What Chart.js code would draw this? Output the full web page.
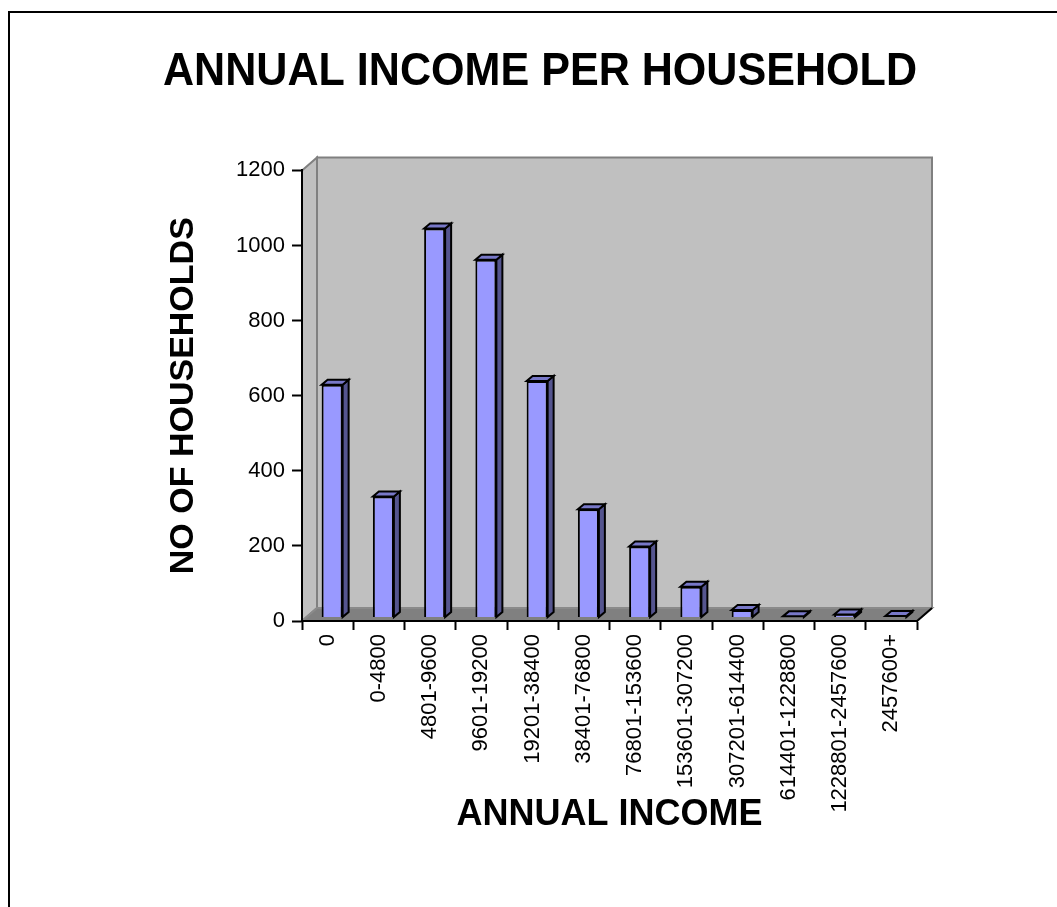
<!DOCTYPE html>
<html>
<head>
<meta charset="utf-8">
<title>Annual income per household</title>
<script src="https://cdn.jsdelivr.net/npm/chart.js@4.4.1/dist/chart.umd.min.js"></script>
<style>
  html, body { margin: 0; padding: 0; background: #fff; overflow: hidden; }
  #frame {
    position: absolute; left: 8px; top: 11px;
    width: 1200px; height: 1000px;
    border: 2px solid #000;
  }
  #chart { position: absolute; left: 0; top: 0; }
</style>
</head>
<body>
<div id="frame"></div>
<canvas id="chart" width="1057" height="907"></canvas>
<script>
// income brackets and household counts
const incomeBands = [
  '0', '0-4800', '4801-9600', '9601-19200', '19201-38400', '38401-76800',
  '76801-153600', '153601-307200', '307201-614400', '614401-1228800',
  '1228801-2457600', '2457600+'
];
const households = [620, 322, 1036, 953, 630, 288, 189, 82, 20, 3, 8, 4];
const countTicks = [0, 200, 400, 600, 800, 1000, 1200];

const FONT = "'Liberation Sans', Arial, sans-serif";

// 3d look: wall depth, bar depth and where the bars sit inside the box
const WALL = { dx: 15, dy: 13 };
const BAR = { dx: 6, dy: 5, shiftX: 4.5, shiftY: 3.5 };

function poly(ctx, pts, fill, stroke, lw) {
  ctx.beginPath();
  ctx.moveTo(pts[0][0], pts[0][1]);
  for (let i = 1; i < pts.length; i++) ctx.lineTo(pts[i][0], pts[i][1]);
  ctx.closePath();
  if (fill) { ctx.fillStyle = fill; ctx.fill(); }
  if (stroke) { ctx.strokeStyle = stroke; ctx.lineWidth = lw || 1; ctx.stroke(); }
}

const box3d = {
  id: 'box3d',
  beforeDraw(chart) {
    const { ctx } = chart;
    const { left: L, right: R, top: T, bottom: B } = chart.chartArea;
    const dx = WALL.dx, dy = WALL.dy;
    ctx.save();
    ctx.lineJoin = 'miter';
    // side wall
    poly(ctx, [[L, T], [L + dx, T - dy], [L + dx, B - dy], [L, B]], '#C0C0C0', '#808080', 2);
    // back wall
    poly(ctx, [[L + dx, T - dy], [R + dx, T - dy], [R + dx, B - dy], [L + dx, B - dy]], '#C0C0C0', '#808080', 2);
    // floor
    poly(ctx, [[L, B], [L + dx, B - dy], [R + dx, B - dy], [R, B]], '#808080', '#8a8a8a', 2);
    ctx.beginPath();
    ctx.moveTo(R, B);
    ctx.lineTo(R + dx, B - dy);
    ctx.strokeStyle = '#000';
    ctx.lineWidth = 2;
    ctx.stroke();
    ctx.restore();
  },
  beforeDatasetsDraw(chart) {
    chart.ctx.save();
    chart.ctx.translate(BAR.shiftX, -BAR.shiftY);
  },
  afterDatasetsDraw(chart) {
    const { ctx } = chart;
    ctx.lineJoin = 'miter';
    chart.getDatasetMeta(0).data.forEach(bar => {
      const p = bar.getProps(['x', 'y', 'base', 'width'], true);
      const l = p.x - p.width / 2, r = p.x + p.width / 2;
      const top = Math.min(p.y, p.base), base = Math.max(p.y, p.base);
      // right side face
      poly(ctx, [[r, top], [r + BAR.dx, top - BAR.dy], [r + BAR.dx, base - BAR.dy], [r, base]], '#55558F', '#000', 2);
      // top face
      poly(ctx, [[l, top], [l + BAR.dx, top - BAR.dy], [r + BAR.dx, top - BAR.dy], [r, top]], '#7878C8', '#000', 2);
    });
    ctx.restore();
  }
};

new Chart(document.getElementById('chart'), {
  type: 'bar',
  data: {
    labels: incomeBands,
    datasets: [{
      data: households,
      backgroundColor: '#9999FF',
      borderColor: '#000',
      borderWidth: 2,
      categoryPercentage: 1,
      barPercentage: 0.41
    }]
  },
  options: {
    responsive: false,
    animation: false,
    events: [],
    layout: { padding: { left: 163, right: 140, top: 10, bottom: 0 } },
    plugins: {
      legend: { display: false },
      tooltip: { enabled: false },
      title: {
        display: true,
        text: 'ANNUAL INCOME PER HOUSEHOLD',
        color: '#000',
        font: { family: FONT, size: 47, weight: 'bold' },
        padding: { top: 34, bottom: 70 }
      }
    },
    scales: {
      x: {
        afterFit: s => { s.height = 286; },
        border: { color: '#000', width: 2 },
        grid: { display: true, drawOnChartArea: false, offset: true, tickLength: 9, tickWidth: 2, tickColor: '#000' },
        ticks: {
          color: '#000', font: { family: FONT, size: 22 },
          maxRotation: 90, minRotation: 90, autoSkip: false, padding: 4
        },
        title: {
          display: true, text: 'ANNUAL INCOME', color: '#000',
          font: { family: FONT, size: 36, weight: 'bold' },
          padding: { bottom: 70 }
        }
      },
      y: {
        min: 0, max: 1200,
        afterFit: s => { s.width = 139; },
        afterBuildTicks: s => { s.ticks = countTicks.map(v => ({ value: v })); },
        border: { color: '#000', width: 2 },
        grid: { display: true, drawOnChartArea: false, tickLength: 10, tickWidth: 2, tickColor: '#000' },
        ticks: {
          color: '#000', font: { family: FONT, size: 22 }, padding: 7,
          callback: v => String(v)
        },
        title: {
          display: true, text: 'NO OF HOUSEHOLDS', color: '#000',
          font: { family: FONT, size: 34, weight: 'bold' },
          padding: { top: 0 }
        }
      }
    }
  },
  plugins: [box3d]
});
</script>
</body>
</html>
